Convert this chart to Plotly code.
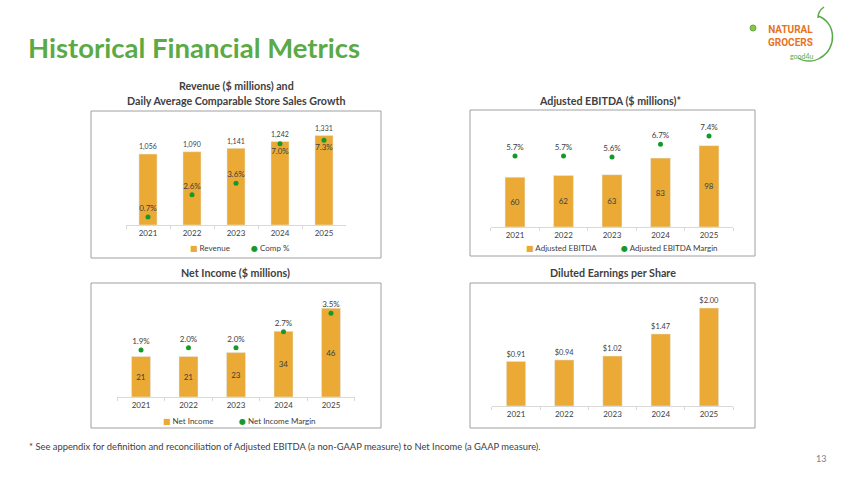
import plotly.graph_objects as go

# ---------------- data ----------------
years = ["2021", "2022", "2023", "2024", "2025"]
revenue = [1056, 1090, 1141, 1242, 1331]
comp_pct = [0.7, 2.6, 3.6, 7.0, 7.3]
adj_ebitda = [60, 62, 63, 83, 98]
adj_ebitda_margin = [5.7, 5.7, 5.6, 6.7, 7.4]
net_income = [21, 21, 23, 34, 46]
net_income_margin = [1.9, 2.0, 2.0, 2.7, 3.5]
eps = [0.91, 0.94, 1.02, 1.47, 2.00]

W, H = 850, 478
BAR = "#EAAA35"
DOT = "#159A2A"
TXT = "#404040"
TITLE_GREEN = "#5BAA46"
FONT = "Lato"


def px(x):
    return x / W


def py(y):
    return 1 - y / H


fig = go.Figure()

# ---------- Revenue / Comp ----------
fig.add_trace(go.Bar(x=years, y=revenue, name="Revenue", marker_color=BAR, width=0.41,
                     texttemplate="%{y:,}", textposition="outside", cliponaxis=False,
                     textfont=dict(size=8, color=TXT, family=FONT),
                     xaxis="x", yaxis="y"))
fig.add_trace(go.Scatter(x=years, y=comp_pct, name="Comp %", mode="markers+text",
                         marker=dict(color=DOT, size=5),
                         text=[f"{v:.1f}%" for v in comp_pct],
                         textposition=["top center"] * 3 + ["bottom center"] * 2,
                         textfont=dict(size=8, color=TXT, family=FONT), cliponaxis=False,
                         xaxis="x", yaxis="y2"))

# ---------- Adjusted EBITDA ----------
fig.add_trace(go.Bar(x=years, y=adj_ebitda, name="Adjusted EBITDA", marker_color=BAR, width=0.41,
                     text=[str(v) for v in adj_ebitda], textposition="inside",
                     insidetextanchor="middle", constraintext="none",
                     textfont=dict(size=8, color=TXT, family=FONT),
                     xaxis="x2", yaxis="y3"))
fig.add_trace(go.Scatter(x=years, y=adj_ebitda_margin, name="Adjusted EBITDA Margin",
                         mode="markers+text", marker=dict(color=DOT, size=5),
                         text=[f"{v:.1f}%" for v in adj_ebitda_margin], textposition="top center",
                         textfont=dict(size=8, color=TXT, family=FONT), cliponaxis=False,
                         xaxis="x2", yaxis="y4"))

# ---------- Net Income ----------
fig.add_trace(go.Bar(x=years, y=net_income, name="Net Income", marker_color=BAR, width=0.4,
                     text=[str(v) for v in net_income], textposition="inside",
                     insidetextanchor="middle", constraintext="none",
                     textfont=dict(size=8, color=TXT, family=FONT),
                     xaxis="x3", yaxis="y5"))
fig.add_trace(go.Scatter(x=years, y=net_income_margin, name="Net Income Margin",
                         mode="markers+text", marker=dict(color=DOT, size=5),
                         text=[f"{v:.1f}%" for v in net_income_margin], textposition="top center",
                         textfont=dict(size=8, color=TXT, family=FONT), cliponaxis=False,
                         xaxis="x3", yaxis="y6"))

# ---------- EPS ----------
fig.add_trace(go.Bar(x=years, y=eps, name="Diluted EPS", marker_color=BAR, width=0.4,
                     texttemplate="$%{y:.2f}", textposition="outside", cliponaxis=False,
                     textfont=dict(size=8, color=TXT, family=FONT),
                     xaxis="x4", yaxis="y7"))

xcommon = dict(type="category", showline=True, linecolor="#D9D9D9", linewidth=1,
               ticks="outside", ticklen=3, tickcolor="#D9D9D9", tickson="boundaries",
               tickfont=dict(size=8, color=TXT, family=FONT), showgrid=False, zeroline=False,
               fixedrange=True)
ycommon = dict(showgrid=False, zeroline=False, showticklabels=False, showline=False,
               ticks="", fixedrange=True)

fig.update_layout(
    xaxis=dict(domain=[px(126), px(346)], anchor="y", **xcommon),
    yaxis=dict(domain=[py(225), py(125)], range=[0, 100 / 0.0672], anchor="x", **ycommon),
    yaxis2=dict(overlaying="y", range=[0, 100 / 11.6], anchor="x", **ycommon),
    xaxis2=dict(domain=[px(490.75), px(733.25)], anchor="y3", **xcommon),
    yaxis3=dict(domain=[py(227), py(127)], range=[0, 120.5], anchor="x2", **ycommon),
    yaxis4=dict(overlaying="y3", range=[-0.34, 8.16], anchor="x2", **ycommon),
    xaxis3=dict(domain=[px(117.25), px(354.75)], anchor="y5", **xcommon),
    yaxis5=dict(domain=[py(397), py(297)], range=[0, 51.8], anchor="x3", **ycommon),
    yaxis6=dict(overlaying="y5", range=[-0.13, 4.2], anchor="x3", **ycommon),
    xaxis4=dict(domain=[px(491.9), px(733.1)], anchor="y7", **xcommon),
    yaxis7=dict(domain=[py(406), py(296)], range=[0, 110 / 49], anchor="x4", **ycommon),
    width=W, height=H, autosize=False,
    margin=dict(l=0, r=0, t=0, b=0),
    paper_bgcolor="white", plot_bgcolor="rgba(0,0,0,0)",
    showlegend=False,
    font=dict(family=FONT, color=TXT),
)

# ---------- panel frames ----------
BORDER = "#A0A0A0"
for (x0, y0, x1, y1) in [(91, 111, 381, 258), (470, 110, 755, 256),
                         (91, 283, 381, 428), (470, 283, 755, 428)]:
    fig.add_shape(type="rect", xref="paper", yref="paper",
                  x0=px(x0), x1=px(x1), y0=py(y1), y1=py(y0),
                  line=dict(color=BORDER, width=1), fillcolor="rgba(0,0,0,0)", layer="below")


def ann(text, x, y, size, color=TXT, xanchor="center", bold=False, family=FONT):
    if bold:
        text = f"<b>{text}</b>"
    fig.add_annotation(text=text, x=px(x), y=py(y), xref="paper", yref="paper",
                       xanchor=xanchor, yanchor="middle", showarrow=False,
                       font=dict(size=size, color=color, family=family))


# main title
ann("Historical Financial Metrics", 26, 47, 27.5, TITLE_GREEN, xanchor="left", bold=True)

# panel titles
ann("Revenue ($ millions) and", 236, 85, 10.7, bold=True)
ann("Daily Average Comparable Store Sales Growth", 236, 100, 10.7, bold=True)
ann("Adjusted EBITDA ($ millions)*", 610, 100, 10.7, bold=True)
ann("Net Income ($ millions)", 235, 272, 10.7, bold=True)
ann("Diluted Earnings per Share", 613, 272, 10.7, bold=True)


# legends (glyph + real text)
def legend_item(glyph, color, name, x, y):
    fig.add_annotation(text=f"<span style='color:{color};font-family:DejaVu Sans'>{glyph}</span> {name}",
                       x=px(x), y=py(y), xref="paper", yref="paper", xanchor="left",
                       yanchor="middle", showarrow=False, font=dict(size=8, color=TXT, family=FONT))


legend_item("■", BAR, "Revenue", 188, 248)
legend_item("●", DOT, "Comp %", 249, 248)
legend_item("■", BAR, "Adjusted EBITDA", 524, 248)
legend_item("●", DOT, "Adjusted EBITDA Margin", 619, 248)
legend_item("■", BAR, "Net Income", 161, 421)
legend_item("●", DOT, "Net Income Margin", 237, 421)

# footnote and page number
ann("* See appendix for definition and reconciliation of Adjusted EBITDA (a non-GAAP measure) to Net Income (a GAAP measure).",
    27, 446, 9.4, xanchor="left")
ann("13", 828, 458, 9, "#7F7F7F", xanchor="right")

# ---------- logo (approximate) ----------
ann("NATURAL<br>GROCERS", 790, 36, 10, "#E8731E", bold=True, family="Roboto")
ann("good4u", 802, 56, 7, TITLE_GREEN)
fig.add_shape(type="path", xref="paper", yref="paper",
              path=(f"M {px(818)} {py(16)} C {px(836)} {py(22)}, {px(838)} {py(48)}, {px(820)} {py(58)} "
                    f"C {px(814)} {py(62)}, {px(804)} {py(62)}, {px(798)} {py(58)}"),
              line=dict(color=TITLE_GREEN, width=1.5))
fig.add_shape(type="path", xref="paper", yref="paper",
              path=f"M {px(818)} {py(18)} C {px(818)} {py(12)}, {px(821)} {py(9)}, {px(824)} {py(7)}",
              line=dict(color=TITLE_GREEN, width=1.5))
fig.add_shape(type="circle", xref="paper", yref="paper",
              x0=px(750), x1=px(756), y0=py(31), y1=py(25),
              line=dict(color=TITLE_GREEN, width=1), fillcolor="#8DC63F")

fig.write_html("out.html")
